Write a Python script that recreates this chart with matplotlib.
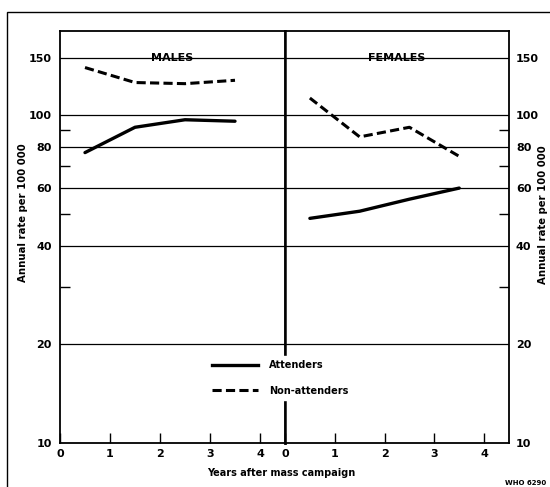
import matplotlib
matplotlib.use('Agg')
import matplotlib.pyplot as plt
from matplotlib.ticker import FixedLocator, NullFormatter, FixedFormatter
from matplotlib.lines import Line2D
from matplotlib.patches import Rectangle

# values (rate per 100 000, log scale)
years = [0.5, 1.5, 2.5, 3.5]
males_att = [77, 92, 97, 96]
males_non = [140, 126, 125, 128]
females_att = [48.5, 51, 55.5, 60]
females_non = [113, 86, 92, 75]

grid_vals = [20, 40, 60, 80, 100, 150]
ytick_vals = [10, 20, 40, 60, 80, 100, 150]
ytick_labels = ['10', '20', '40', '60', '80', '100', '150']
yminor_vals = [30, 50, 70, 90]
xtick_vals = [0, 1, 2, 3, 4]

W, H = 550, 487
fig = plt.figure(figsize=(5.5, 4.87), dpi=100)
fnt = dict(family='DejaVu Sans', weight='bold')

def fx(px):
    return px / W

def fy(py):
    return 1 - py / H

top, bot = 31, 443
axL = fig.add_axes([fx(60), fy(bot), fx(285) - fx(60), fy(top) - fy(bot)])
axR = fig.add_axes([fx(285), fy(bot), fx(509) - fx(285), fy(top) - fy(bot)])

for ax, att, non, title in [(axL, males_att, males_non, 'MALES'),
                            (axR, females_att, females_non, 'FEMALES')]:
    ax.set_yscale('log')
    ax.set_ylim(10, 181)
    ax.set_xlim(0, 4.5)
    for g in grid_vals:
        ax.axhline(g, color='black', lw=0.9, zorder=1)
    ax.plot(years, att, color='black', lw=2.4, solid_capstyle='round', zorder=3)
    ax.plot(years, non, color='black', lw=2.2, dashes=(3, 1.4), zorder=3)
    ax.text(0.5, 0.935, title, transform=ax.transAxes, ha='center', va='center',
            fontsize=8, **fnt)
    ax.xaxis.set_major_locator(FixedLocator(xtick_vals))
    ax.set_xticklabels([str(v) for v in xtick_vals], fontsize=8, **fnt)
    ax.tick_params(axis='x', direction='in', length=7, width=1, top=False, pad=4)
    ax.yaxis.set_major_locator(FixedLocator(ytick_vals))
    ax.yaxis.set_minor_locator(FixedLocator(yminor_vals))
    ax.yaxis.set_minor_formatter(NullFormatter())
    for s in ax.spines.values():
        s.set_linewidth(1.3)

axL.spines['right'].set_linewidth(1.8)
axR.spines['left'].set_linewidth(1.8)

axL.yaxis.set_major_formatter(FixedFormatter(ytick_labels))
axL.tick_params(axis='y', which='major', length=0, pad=6, labelsize=8)
axL.tick_params(axis='y', which='minor', direction='in', length=7, width=1)
axL.tick_params(axis='y', which='both', right=False)
for lab in axL.get_yticklabels():
    lab.set_fontweight('bold')

axR.yaxis.tick_right()
axR.yaxis.set_major_formatter(FixedFormatter(ytick_labels))
axR.tick_params(axis='y', which='major', length=0, pad=5, labelsize=8)
axR.tick_params(axis='y', which='minor', direction='in', length=7, width=1)
axR.tick_params(axis='y', which='both', left=False)
for lab in axR.get_yticklabels():
    lab.set_fontweight('bold')

fig.text(fx(23), fy(213), 'Annual rate per 100 000', rotation=90, ha='center',
         va='center', fontsize=7.3, **fnt)
fig.text(fx(543), fy(215), 'Annual rate per 100 000', rotation=90, ha='center',
         va='center', fontsize=7.3, **fnt)
fig.text(fx(281), fy(473), 'Years after mass campaign', ha='center', va='center',
         fontsize=7, **fnt)
fig.text(fx(546), fy(483), 'WHO 6290', ha='right', va='center', fontsize=5, **fnt)

# outer frame (runs off the right and bottom edges)
fig.patches.append(Rectangle((fx(7), -0.05), 1.1, fy(12) + 0.05, transform=fig.transFigure,
                             fill=False, lw=1.0, edgecolor='black', zorder=0))

handles = [Line2D([], [], color='black', lw=2.4),
           Line2D([], [], color='black', lw=2.2, dashes=(3, 1.4))]
leg = fig.legend(handles, ['Attenders', 'Non-attenders'], loc='center',
                 bbox_to_anchor=(fx(280), fy(378)), frameon=True, fancybox=False,
                 edgecolor='white', facecolor='white', framealpha=1,
                 handlelength=4.8, handletextpad=1.1, labelspacing=1.6,
                 prop=dict(family='DejaVu Sans', weight='bold', size=7),
                 borderpad=0.4)

fig.savefig('out.png', dpi=100)
